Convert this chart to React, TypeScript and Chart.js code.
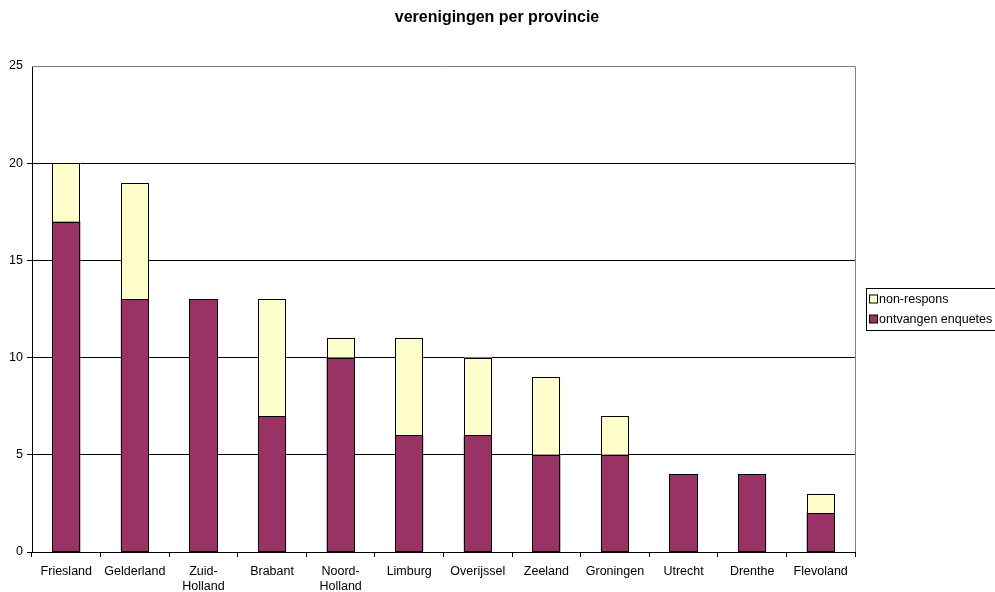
import React, { useEffect, useRef } from "react";
import { Chart, registerables } from "chart.js";

Chart.register(...registerables);

const categories: (string | string[])[] = [
  "Friesland", "Gelderland", ["Zuid-", "Holland"], "Brabant", ["Noord-", "Holland"],
  "Limburg", "Overijssel", "Zeeland", "Groningen", "Utrecht", "Drenthe", "Flevoland",
];
const ontvangen = [17, 13, 13, 7, 10, 6, 6, 5, 5, 4, 4, 2];
const nonRespons = [3, 6, 0, 6, 1, 5, 4, 4, 2, 0, 0, 1];
const yTicks = [0, 5, 10, 15, 20, 25];
const titleText = "verenigingen per provincie";
const legendLabels = ["non-respons", "ontvangen enquetes"];

const FONT = "'Liberation Sans', Arial, sans-serif";
const PURPLE = "#993366";
const YELLOW = "#FFFFCC";

const borderPlugin = {
  id: "barBorders",
  afterDatasetsDraw(chart: any) {
    const { ctx } = chart;
    ctx.save();
    ctx.strokeStyle = "#000";
    ctx.lineWidth = 1;
    chart.data.datasets.forEach((_: any, di: number) => {
      const meta = chart.getDatasetMeta(di);
      meta.data.forEach((el: any) => {
        const p = el.getProps(["x", "y", "base", "width"], true);
        if (Math.abs(p.base - p.y) < 0.5) return;
        const l = Math.round(p.x - p.width / 2) + 0.5;
        const r = Math.round(p.x + p.width / 2) - 0.5;
        const t = Math.round(Math.min(p.y, p.base)) + 0.5;
        const b = Math.min(Math.round(Math.max(p.y, p.base)) + 0.5, chart.chartArea.bottom - 0.5);
        ctx.strokeRect(l, t, r - l, b - t);
      });
    });
    ctx.restore();
  },
};

const framePlugin = {
  id: "frame",
  afterDraw(chart: any) {
    const { ctx, chartArea } = chart;
    ctx.save();
    ctx.strokeStyle = "#808080";
    ctx.lineWidth = 1;
    ctx.beginPath();
    ctx.moveTo(chartArea.left, chartArea.top + 0.5);
    ctx.lineTo(chartArea.right + 0.5, chartArea.top + 0.5);
    ctx.lineTo(chartArea.right + 0.5, chartArea.bottom);
    ctx.stroke();
    // title
    ctx.fillStyle = "#000";
    ctx.font = `bold 16px ${FONT}`;
    ctx.textAlign = "center";
    ctx.textBaseline = "middle";
    ctx.fillText(titleText, 497, 18);
    // legend
    const lx = 866.5, ly = 288.5, lw = 130, lh = 42;
    ctx.fillStyle = "#ffffff";
    ctx.fillRect(lx, ly, lw, lh);
    ctx.strokeStyle = "#000000";
    ctx.strokeRect(lx, ly, lw, lh);
    const colors = [YELLOW, PURPLE];
    ctx.font = `12.5px ${FONT}`;
    ctx.textAlign = "left";
    ctx.textBaseline = "middle";
    legendLabels.forEach((lab, i) => {
      const cy = 299 + i * 20;
      ctx.fillStyle = colors[i];
      ctx.fillRect(869.5, cy - 4, 8, 8);
      ctx.strokeStyle = "#000";
      ctx.strokeRect(869.5, cy - 4, 8, 8);
      ctx.fillStyle = "#000";
      ctx.fillText(lab, 879, cy + 0.5);
    });
    ctx.restore();
  },
};

export default function App() {
  const ref = useRef<HTMLCanvasElement>(null);
  useEffect(() => {
    document.body.style.margin = "0";
    const chart = new Chart(ref.current!, {
      type: "bar",
      data: {
        labels: categories as any,
        datasets: [
          {
            label: legendLabels[1],
            data: ontvangen,
            backgroundColor: PURPLE,
            borderWidth: 0,
            barPercentage: 0.41,
            categoryPercentage: 1,
          },
          {
            label: legendLabels[0],
            data: nonRespons,
            backgroundColor: YELLOW,
            borderWidth: 0,
            barPercentage: 0.41,
            categoryPercentage: 1,
          },
        ],
      },
      options: {
        animation: false,
        responsive: false,
        devicePixelRatio: 1,
        layout: { padding: { left: 0, right: 140, top: 66, bottom: 0 } },
        plugins: {
          legend: { display: false },
          tooltip: { enabled: false },
          title: { display: false },
        },
        scales: {
          x: {
            stacked: true,
            afterFit: (axis: any) => { axis.height = 40; },
            border: { color: "#000", width: 1 },
            grid: { display: true, drawOnChartArea: false, drawTicks: true, tickLength: 5, color: "#000", offset: true },
            ticks: { color: "#000", font: { family: FONT, size: 12.5, lineHeight: 1.2 }, padding: 7, maxRotation: 0, autoSkip: false },
          },
          y: {
            stacked: true,
            min: 0,
            max: 25,
            afterFit: (axis: any) => { axis.width = 32; },
            afterBuildTicks: (axis: any) => { axis.ticks = yTicks.map((v) => ({ value: v })); },
            border: { color: "#000", width: 1 },
            grid: {
              color: (c: any) => (c.tick && c.tick.value === 25 ? "rgba(0,0,0,0)" : "#000"),
              drawTicks: true,
              tickLength: 5,
            },
            ticks: { color: "#000", font: { family: FONT, size: 12.5 }, padding: 4, stepSize: 5 },
          },
        },
      },
      plugins: [borderPlugin, framePlugin],
    });
    return () => chart.destroy();
  }, []);
  return (
    <div style={{ width: 995, height: 592, background: "#fff" }}>
      <canvas ref={ref} width={995} height={592} style={{ display: "block" }} />
    </div>
  );
}
